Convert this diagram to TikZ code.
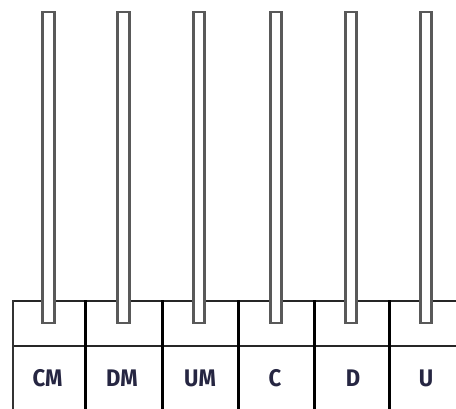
\documentclass[tikz,border=0pt]{standalone}
\usepackage{fontspec}
\setmainfont{Fira Sans}
\definecolor{labelink}{RGB}{38,38,66}
\begin{document}
\begin{tikzpicture}[x=1pt,y=-1pt,
  rule/.style={draw=black!85,line width=2pt},
  divider/.style={draw=black,line width=3pt},
  rod/.style={draw=black!65,fill=white,line width=2.6pt,minimum width=11.5pt,inner sep=0pt},
  digit/.style={font=\bfseries\fontsize{24}{24}\selectfont,text=labelink,inner sep=0pt,xscale=0.92}]
\useasboundingbox (0,0) rectangle (456,408);
% table frame
\draw[rule] (12.5,301) -- (470,301);
\draw[rule] (12.5,346) -- (470,346);
\draw[draw=black!80,line width=2pt] (12.5,300) -- (12.5,410);
\foreach \x in {85,162,238,314,389}
  \draw[divider] (\x,300) -- (\x,410);
% rods of the abacus
\foreach \x/\n in {48.5/r1,123.5/r2,199/r3,276/r4,351/r5,426/r6}
  \node[rod,minimum height=311pt] (\n) at (\x,167.5) {};
% place-value labels
\node[digit] (cm) at (47.5,378) {CM};
\node[digit] (dm) at (122,378) {DM};
\node[digit] (um) at (200,378) {UM};
\node[digit] (c) at (275,378) {C};
\node[digit] (d) at (353,378) {D};
\node[digit] (u) at (426,378) {U};
\end{tikzpicture}
\end{document}
